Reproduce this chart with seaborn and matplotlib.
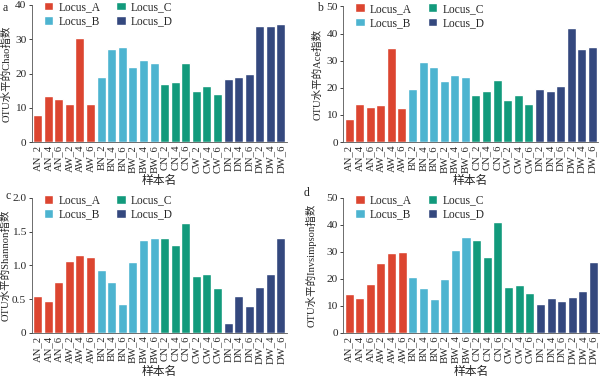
import pandas as pd
import matplotlib
matplotlib.use("Agg")
import matplotlib.pyplot as plt
import seaborn as sns

samples = ["AN_2", "AN_4", "AN_6", "AW_2", "AW_4", "AW_6",
           "BN_2", "BN_4", "BN_6", "BW_2", "BW_4", "BW_6",
           "CN_2", "CN_4", "CN_6", "CW_2", "CW_4", "CW_6",
           "DN_2", "DN_4", "DN_6", "DW_2", "DW_4", "DW_6"]
loci = ["Locus_A"] * 6 + ["Locus_B"] * 6 + ["Locus_C"] * 6 + ["Locus_D"] * 6

chao = [8.0, 13.5, 12.5, 11.0, 30.5, 11.2,
        19.0, 27.2, 27.8, 22.0, 24.0, 23.0,
        17.0, 17.5, 23.0, 15.0, 16.5, 14.0,
        18.3, 19.0, 20.0, 34.0, 34.0, 34.3]
ace = [8.7, 14.0, 13.0, 13.7, 34.8, 12.5,
       19.5, 29.5, 27.5, 22.5, 24.7, 24.0,
       17.5, 18.8, 22.8, 15.5, 17.5, 14.0,
       19.7, 19.0, 20.7, 42.0, 34.5, 35.0]
shannon = [0.55, 0.47, 0.75, 1.06, 1.15, 1.12,
           0.93, 0.75, 0.42, 1.05, 1.38, 1.41,
           1.41, 1.30, 1.63, 0.84, 0.87, 0.66,
           0.15, 0.54, 0.39, 0.68, 0.87, 1.40]
invsimpson = [14.5, 13.0, 18.0, 26.0, 29.5, 30.0,
              20.5, 16.5, 12.5, 20.0, 30.5, 35.5,
              34.5, 28.0, 41.2, 17.0, 17.8, 14.8,
              10.5, 12.8, 11.7, 13.3, 15.5, 26.2]

palette = {"Locus_A": "#dc4530", "Locus_B": "#4db4d0",
           "Locus_C": "#129a7c", "Locus_D": "#34487e"}

sns.set_style("ticks")
plt.rcParams["font.family"] = ["Liberation Serif", "Noto Sans CJK SC"]

# letter, data, y label, y max, ticks, tick labels, axes rect, letter pos (px), ylabel x (px)
panels = [
    ("a", chao, "OTU水平的Chao指数", 40, [0, 10, 20, 30, 40], ["0", "10", "20", "30", "40"],
     [0.053, 0.625, 0.425, 0.362], (3, 8), 12),
    ("b", ace, "OTU水平的Ace指数", 50, [0, 10, 20, 30, 40, 50], ["0", "10", "20", "30", "40", "50"],
     [0.572, 0.625, 0.425, 0.358], (317, 8), 323),
    ("c", shannon, "OTU水平的Shannon指数", 2.0, [0, 0.5, 1.0, 1.5, 2.0], ["0", "0.5", "1.0", "1.5", "2.0"],
     [0.053, 0.122, 0.425, 0.356], (5, 196), 11),
    ("d", invsimpson, "OTU水平的Invsimpson指数", 50, [0, 10, 20, 30, 40, 50], ["0", "10", "20", "30", "40", "50"],
     [0.572, 0.122, 0.427, 0.356], (304, 193), 317),
]

fig = plt.figure(figsize=(6, 3.79), dpi=100)

for letter, values, ylabel, ymax, ticks, ticklabels, pos, lpos, ylx in panels:
    ax = fig.add_axes(pos)
    df = pd.DataFrame({"sample": samples, "value": values, "locus": loci})
    sns.barplot(data=df, x="sample", y="value", hue="locus", palette=palette,
                dodge=False, width=0.85, saturation=1, ax=ax)
    ax.set_ylim(0, ymax)
    ax.set_xlim(-0.55, 23.55)
    ax.set_yticks(ticks)
    ax.set_yticklabels(ticklabels, fontsize=8.2)
    ax.set_xticks(range(len(samples)))
    ax.set_xticklabels(samples, rotation=90, fontsize=7.7)
    ax.tick_params(axis="x", length=0, pad=2)
    ax.tick_params(axis="y", length=2.5, width=0.6, pad=1.5)
    ax.set_xlabel("样本名", fontsize=8.5, labelpad=1.5)
    ax.set_ylabel(ylabel, fontsize=7.6)
    ax.yaxis.set_label_coords(ylx / 600, pos[1] + pos[3] / 2, transform=fig.transFigure)
    for s in ["top", "right"]:
        ax.spines[s].set_visible(False)
    for s in ["left", "bottom"]:
        ax.spines[s].set_linewidth(0.6)
        ax.spines[s].set_color("#555555")
    ax.legend(loc="upper left", bbox_to_anchor=(0.025, 1.07), ncol=2, frameon=False,
              fontsize=8.3, handlelength=0.8, handleheight=0.8, handletextpad=0.45,
              columnspacing=1.4, labelspacing=0.2, borderpad=0.0)
    fig.text(lpos[0] / 600, 1 - lpos[1] / 379, letter, fontsize=8.5, va="center")

fig.savefig("out.png", dpi=100)
